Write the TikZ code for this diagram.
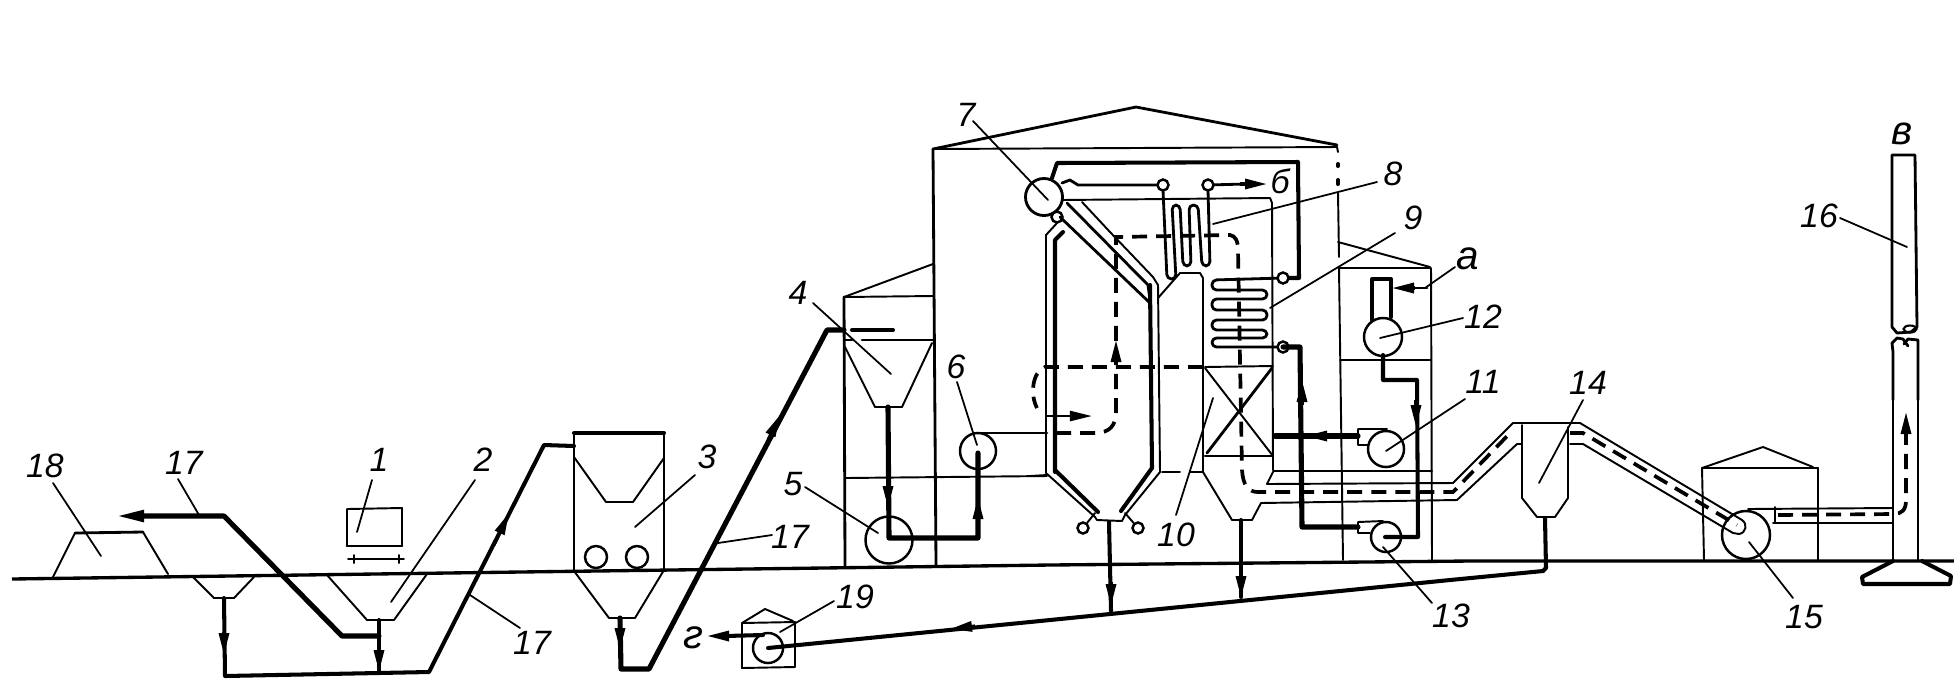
\documentclass[tikz,border=0pt]{standalone}
\usepackage{fontspec}
\setmainfont{Liberation Sans}
\usetikzlibrary{arrows.meta,shapes.geometric}
\tikzset{
  thin line/.style={line width=0.55pt,line join=round,line cap=round},
  med line/.style={line width=0.8pt,line join=round,line cap=round},
  thick line/.style={line width=1.15pt,line join=round,line cap=round},
  heavy line/.style={line width=1.45pt,line join=round,line cap=round},
  gas/.style={line width=1.05pt,dash pattern=on 1.5mm off 0.9mm},
  equip/.style={draw,circle,inner sep=0pt,line width=0.7pt},
  valve/.style={draw,circle,inner sep=0pt,minimum size=1.1mm,line width=0.7pt,fill=white},
  lbl/.style={inner sep=0pt,font=\fontsize{9.6}{10}\selectfont\itshape},
  biglbl/.style={inner sep=0pt,font=\fontsize{11.5}{12}\selectfont\itshape},
  leader/.style={line width=0.5pt,line cap=round},
  flowtip/.style={line width=0.9pt,-{Triangle[length=2.2mm,width=1mm]}},
}
\newcommand\lab[5]{\node[lbl] (#1) at (#2) {#3};
  \coordinate (#1a) at (#4); \coordinate (#1b) at (#5);
  \draw[leader] (#1a) -- (#1b);}
\newcommand\ftip[2]{\draw[flowtip] (#1) -- (#2);}
\begin{document}
\begin{tikzpicture}[x=0.01cm,y=-0.01cm]
\useasboundingbox (0,0) rectangle (1954,693);
\fill[white] (0,0) rectangle (1954,693);

% ground
\draw[line width=0.95pt] (12,579) -- (520,572) -- (1050,565) -- (1470,561) -- (1954,561);

% 18 mound
\draw[thin line] (53,577) -- (75,533);
\draw[med line] (75,533) -- (143,532);
\draw[thin line] (143,532) -- (168,574);

% receiving hoppers
\draw[thin line] (193,577) -- (214,598) -- (234,598) -- (254,577);
\draw[thin line] (327,575) -- (367,620) -- (394,620) -- (427,574);
\draw[thin line] (347,546) -- (347,509) -- (402,508) -- (402,546);
\draw[med line] (347,546) -- (402,546);
\coordinate (trolA) at (348,559); \coordinate (trolB) at (404,559);
\draw[thin line] (trolA) -- (trolB);
\draw[thin line] (354,555) -- (354,563) (399,555) -- (399,563);

% conveyors 17
\draw[heavy line,-{Triangle[length=2.8mm,width=1.1mm]}] (379,636) -- (342,636) -- (224,516) -- (116,516);
\draw[thick line] (224,598) -- (225,676) -- (429,672) -- (544,445) -- (574,446);
\draw[thick line] (379,620) -- (379,672);
\ftip{224,632}{224,655}
\ftip{379,650}{379,672}
\ftip{494,545}{509,513}

% 3 mill
\draw[thick line] (574,433) -- (664,433);
\draw[thin line] (574,433) -- (574,571) (664,433) -- (664,570);
\draw[thin line] (574,457) -- (606,502) -- (633,502) -- (664,458);
\node[equip,minimum size=2.2mm] (ball1) at (596,557) {};
\node[equip,minimum size=2.2mm] (ball2) at (637,557) {};
\draw[thin line] (574,571) -- (609,618) -- (635,618) -- (664,570);
\draw[heavy line] (620,618) -- (621,669) -- (649,669) -- (827,330) -- (844,330);
\ftip{620,625}{620,650}
\ftip{768,440}{780,415}

% 4 bunker building
\draw[thin line] (844,297) -- (933,296);
\draw[thin line] (844,297) -- (933,264);
\draw[med line] (844,297) -- (845,567);
\draw[thick line] (852,330) -- (893,330);
\draw[med line] (844,340) -- (852,340) (862,340) -- (933,340);
\draw[thin line] (845,347) -- (875,407) -- (902,407) -- (932,343);
\draw[thin line] (845,478) -- (1047,476);
\node[equip,minimum size=4.7mm] (pulv) at (889,540) {};
\node[equip,minimum size=3.6mm] (fan6) at (978,451) {};
\draw[heavy line] (888,407) -- (889,538) -- (978,538) -- (978,453);
\ftip{888,485}{888,508}
\ftip{978,520}{978,497}
\draw[med line] (977,433) -- (1047,433);

% main building
\draw[med line] (933,149) -- (1136,107) -- (1337,145);
\draw[thin line] (933,149) -- (1337,147);
\draw[med line] (933,149) -- (936,565);
\draw[thin line] (1337,147) -- (1338,152);
\draw[thick line,dash pattern=on 0.2mm off 1.4mm on 1.2mm off 1mm] (1338,164) -- (1338,184);
\draw[thin line] (1338,193) -- (1339,257);
\draw[thin line] (1339,268) -- (1343,560);

% right small building
\draw[thin line] (1338,242) -- (1430,267);
\draw[med line] (1339,268) -- (1430,268);
\draw[thin line] (1431,268) -- (1432,560);
\draw[thin line] (1340,360) -- (1431,360);

% drum and furnace
\node[equip,minimum size=3.7mm,line width=0.8pt] (drum) at (1044,197) {};
\draw[thin line] (1046,473) -- (1046,235) -- (1057,223);
\draw[thick line] (1055,472) -- (1055,240) -- (1063,232);
\node[valve] (v7) at (1057,217) {};
\draw[thick line] (1052,178) -- (1057,163) -- (1298,162) -- (1299,278) -- (1283,278);
\draw[med line] (1062,183) -- (1070,180) -- (1078,185) -- (1158,185);
\draw[med line] (1208,185) -- (1245,184);
\ftip{1240,184}{1267,184}
\draw[thin line] (1062,200) -- (1270,198) -- (1272,203) -- (1273,470);
\draw[thin line] (1082,202) -- (1110,232) -- (1153,277) -- (1158,285) -- (1160,472);
\draw[med line] (1067,203) -- (1148,285) -- (1150,300);
\draw[med line] (1060,217) -- (1150,303);
\draw[thick line] (1150,285) -- (1152,468);
\draw[thin line] (1158,298) -- (1180,273) -- (1200,273) -- (1203,278) -- (1203,472);
% lower furnace
\draw[thin line] (1046,473) -- (1095,517) -- (1097,520) -- (1122,521) -- (1125,515) -- (1160,472);
\draw[thick line] (1055,470) -- (1098,512);
\draw[thick line] (1152,468) -- (1121,511);
\node[valve] (vL) at (1083,528) {};
\node[valve] (vR) at (1138,528) {};
\draw[thin line] (1095,513) -- (vL);
\draw[thin line] (1125,513) -- (vR);
\draw[thick line] (1109,522) -- (1111,611);
\ftip{1111,582}{1111,606}
% floor line
\draw[thin line] (1030,476) -- (1047,475);
\draw[thin line] (1162,472) -- (1180,472) (1190,472) -- (1203,472);

% tube bundles
\draw[med line,rounded corners=0.45mm] (1163,190) -- (1167,279) -- (1176,279) -- (1172,205) -- (1180,205) -- (1183,266) -- (1191,266) -- (1189,205) -- (1198,205) -- (1202,266) -- (1210,266) -- (1208,190);
\draw[med line,rounded corners=0.45mm] (1283,278) -- (1212,280) -- (1212,290) -- (1267,290) -- (1267,299) -- (1212,299) -- (1212,310) -- (1267,310) -- (1267,320) -- (1212,320) -- (1212,330) -- (1267,330) -- (1267,338) -- (1212,338) -- (1212,347) -- (1283,347);
\node[valve] (v1) at (1163,185) {};
\node[valve] (v2) at (1208,185) {};
\node[valve] (v3) at (1283,278) {};
\node[valve] (v4) at (1283,347) {};

% air heater 10
\draw[thin line] (1205,367) -- (1273,366);
\draw[med line] (1205,456) -- (1273,456);
\draw[thin line] (1205,368) -- (1273,456);
\draw[med line] (1207,453) -- (1272,368);

% ash hopper and gas duct
\draw[thin line] (1203,472) -- (1232,520) -- (1252,520) -- (1261,503) -- (1457,500) -- (1517,444) -- (1522,444);
\draw[thin line] (1273,471) -- (1432,471);
\draw[thin line] (1273,472) -- (1267,484) -- (1453,483) -- (1513,423);
\draw[thick line] (1241,520) -- (1241,597);
\ftip{1241,570}{1241,598}

% feed water lines
\node[equip,minimum size=3.8mm] (fan12) at (1383,337) {};
\node[equip,minimum size=3.6mm] (fan11) at (1386,449) {};
\node[equip,minimum size=3mm] (pump13) at (1386,537) {};
\draw[thick line] (1372,320) -- (1372,279) -- (1391,279) -- (1391,317);
\draw[thick line] (1383,355) -- (1383,380) -- (1417,380) -- (1418,537) -- (1385,537);
\ftip{1416,400}{1416,427}
\draw[heavy line] (1358,436) -- (1275,436);
\ftip{1330,436}{1305,436}
\draw[thin line] (1358,429) -- (1387,429) (1358,429) -- (1358,445) -- (1368,445);
\draw[heavy line] (1283,347) -- (1300,347) -- (1302,527) -- (1358,527);
\ftip{1302,405}{1302,380}
\draw[thin line] (1358,522) -- (1383,521) (1358,522) -- (1358,533) -- (1370,533);
\draw[med line] (1427,288) -- (1410,288);
\ftip{1415,288}{1392,288}

% gas path (dashed)
\draw[gas] (1203,367) -- (1045,367) .. controls (1032,372) and (1030,395) .. (1037,408);
\draw[gas] (1056,433) -- (1095,433) .. controls (1110,433) and (1116,425) .. (1116,412) -- (1116,237) -- (1230,235) .. controls (1235,236) and (1238,240) .. (1238,250) -- (1242,470) .. controls (1243,485) and (1248,492) .. (1258,492) -- (1453,492) -- (1513,430);
\draw[flowtip,line width=0.7pt] (1045,416) -- (1092,416);
\ftip{1116,365}{1116,340}

% 14 cyclone
\draw[thin line] (1513,423) -- (1580,423);
\draw[thin line] (1522,425) -- (1522,498) -- (1537,517) -- (1555,517) -- (1568,498) -- (1568,427);
\draw[thick line] (1545,518) -- (1546,568) -- (1543,571);

% duct to 15
\draw[thin line] (1570,423) -- (1580,423) -- (1742,520) .. controls (1748,524) and (1746,533) .. (1739,534) -- (1733,533) -- (1583,444) -- (1570,444);
\draw[gas] (1570,433) -- (1583,433) -- (1737,525);

% 15 building
\draw[thin line] (1702,468) -- (1704,560) (1818,468) -- (1818,560);
\draw[thin line] (1702,468) -- (1818,468);
\draw[thin line] (1702,468) -- (1763,447) -- (1813,467);
\node[equip,minimum size=4.8mm] (fan15) at (1746,535) {};
\draw[thin line] (1748,509) -- (1893,508) (1773,523) -- (1893,523) (1775,507) -- (1775,523);
\draw[gas] (1778,515) -- (1893,514) .. controls (1902,514) and (1906,510) .. (1906,500) -- (1906,430);
\ftip{1906,438}{1906,412}

% 16 stack
\draw[med line] (1893,400) -- (1893,560);
\draw[med line] (1918,400) -- (1918,560);
\draw[med line] (1893,400) -- (1893,352) -- (1892,343) -- (1897,338) -- (1903,339) -- (1908,346);
\draw[med line] (1918,400) -- (1918,340) -- (1908,339) -- (1904,344);
\draw[med line] (1892,327) -- (1892,155) -- (1915,155) -- (1917,327) -- (1911,332) -- (1897,333) -- (1892,327);
\node[draw,ellipse,inner sep=0pt,minimum width=1.3mm,minimum height=0.7mm,line width=0.6pt] (neck1) at (1910,329) {};
\draw[thick line] (1893,561) -- (1862,577) -- (1863,584) -- (1950,584) -- (1951,576) -- (1922,561);

% ash line and 19
\draw[thin line] (742,623) -- (742,668) -- (795,667) -- (795,622) -- (742,623);
\draw[thin line] (742,623) -- (765,609) -- (793,621);
\node[equip,minimum size=3mm] (pump19) at (768,648) {};
\draw[thick line] (pump19.center) -- (1030,622) -- (1450,580) -- (1543,571);
\ftip{975,626}{950,629}
\draw[thick line] (763,635) -- (725,636);
\ftip{735,636}{707,636}

% labels
\lab{l18}{45,466}{18}{53,483}{101,556}
\lab{l17a}{184,463}{17}{178,479}{199,515}
\lab{l1}{379,460}{1}{372,480}{357,532}
\lab{l2}{483,460}{2}{475,480}{391,602}
\lab{l17b}{532,643}{17}{520,628}{470,595}
\lab{l3}{707,457}{3}{695,475}{635,527}
\lab{l17c}{790,537}{17}{772,535}{718,543}
\lab{l4}{798,293}{4}{813,303}{891,374}
\lab{l5}{793,484}{5}{805,487}{878,533}
\lab{l6}{956,367}{6}{957,382}{977,445}
\lab{l7}{966,115}{7}{973,121}{1048,200}
\lab{l8}{1393,174}{8}{1377,182}{1213,224}
\lab{l9}{1413,218}{9}{1395,233}{1270,308}
\lab{l10}{1176,535}{10}{1176,515}{1213,398}
\lab{l11}{1483,382}{11}{1465,399}{1386,451}
\lab{l12}{1483,317}{12}{1463,318}{1380,338}
\lab{l13}{1451,616}{13}{1432,603}{1383,547}
\lab{l14}{1588,383}{14}{1583,400}{1539,483}
\lab{l15}{1804,617}{15}{1793,598}{1749,542}
\lab{l16}{1819,216}{16}{1840,218}{1907,247}
\lab{l19}{855,597}{19}{834,601}{780,632}
\coordinate (laa) at (1455,267); \coordinate (lab) at (1425,288);
\draw[leader] (laa) -- (lab);
\node[biglbl] (la) at (1468,259) {а};
\node[lbl] (lb) at (1280,181) {б};
\node[biglbl] (lv) at (1902,134) {в};
\node[biglbl] (lg) at (693,638) {г};
\end{tikzpicture}
\end{document}
